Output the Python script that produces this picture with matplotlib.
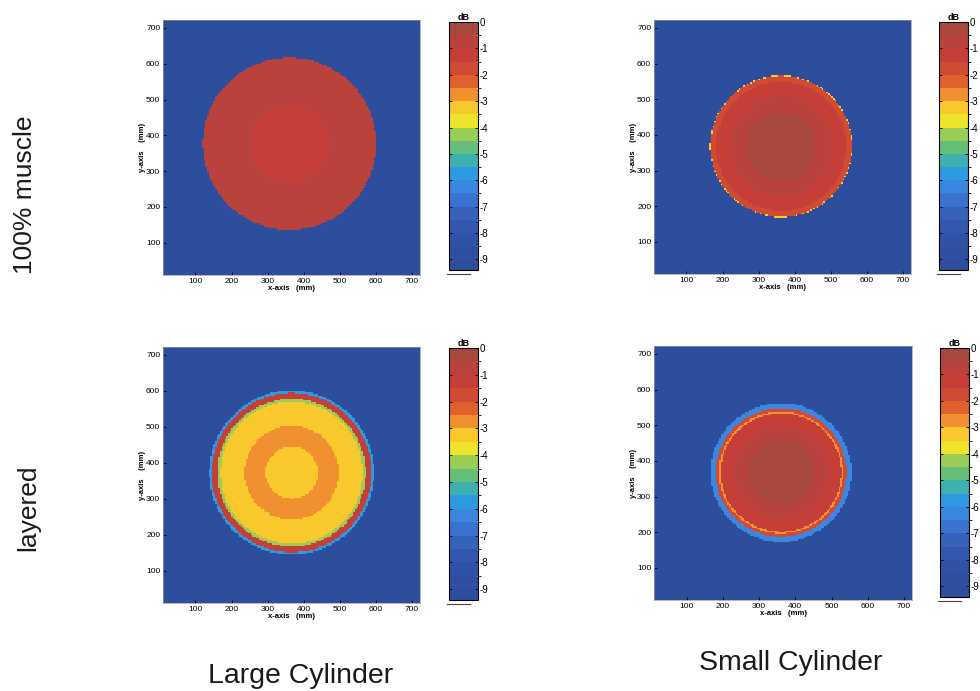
import numpy as np
import matplotlib
matplotlib.use("Agg")
import matplotlib.pyplot as plt
from matplotlib.colors import ListedColormap, BoundaryNorm
from matplotlib.lines import Line2D

plt.rcParams["font.family"] = ["Liberation Sans", "DejaVu Sans"]
plt.rcParams["axes.unicode_minus"] = False

W, H = 980, 691

# dB colour scale, 0.5 dB steps from -9.5 to 0
DB_BOUNDS = np.arange(-9.5, 0.01, 0.5)
DB_COLORS = [
    "#2d4e9d", "#2f50a1", "#3052a6", "#3357ad", "#3662bb", "#3a73cf",
    "#3b86e0", "#2e9be0", "#3eb0b0", "#66bf78", "#9acd55", "#eee42a",
    "#f8c82c", "#f09030", "#e0602e", "#d04a34", "#c63e38", "#b9423c",
    "#a8483e",
]
DB_TICKS = [0, -1, -2, -3, -4, -5, -6, -7, -8, -9]
AXIS_TICKS = [100, 200, 300, 400, 500, 600, 700]
BACKGROUND_DB = -9.3

# ring model of each cylinder: centre (mm), outer radius of each ring (mm), level (dB)
LARGE_MUSCLE_CENTER = (360, 376)
LARGE_MUSCLE_R = [108, 240]
LARGE_MUSCLE_DB = [-1.2, -0.7]

SMALL_MUSCLE_CENTER = (362, 366)
SMALL_MUSCLE_R = [95, 140, 180, 195.5, 197]
SMALL_MUSCLE_DB = [-0.3, -0.8, -1.3, -1.8, -3.3]

LARGE_LAYERED_CENTER = (366, 372)
LARGE_LAYERED_R = [72, 130, 197, 205, 221, 228]
LARGE_LAYERED_DB = [-3.3, -2.7, -3.3, -4.3, -1.3, -6.0]

SMALL_LAYERED_CENTER = (360, 367)
SMALL_LAYERED_R = [90, 130, 166, 171, 180, 194]
SMALL_LAYERED_DB = [-0.3, -0.8, -1.3, -3.0, -1.8, -6.2]

ROW_LABELS = ["100% muscle", "layered"]
COL_LABELS = ["Large Cylinder", "Small Cylinder"]

cmap = ListedColormap(DB_COLORS)
norm = BoundaryNorm(DB_BOUNDS, cmap.N)


def rect(left, top, right, bottom):
    return [left / W, (H - bottom) / H, (right - left) / W, (bottom - top) / H]


def ring_map(center, radii, levels, step=4.5):
    xs = np.arange(10 + step / 2, 722, step)
    X, Y = np.meshgrid(xs, xs)
    r = np.hypot(X - center[0], Y - center[1])
    img = np.full(X.shape, BACKGROUND_DB)
    for rad, lev in sorted(zip(radii, levels), reverse=True):
        img[r < rad] = lev
    return img


def add_panel(fig, ax_box, cax_box, center, radii, levels):
    ax = fig.add_axes(rect(*ax_box))
    img = ring_map(center, radii, levels)
    im = ax.imshow(img, origin="lower", extent=[10, 722, 10, 722], cmap=cmap,
                   norm=norm, interpolation="nearest", aspect="auto")
    ax.set_xticks(AXIS_TICKS)
    ax.set_yticks(AXIS_TICKS)
    ax.tick_params(direction="in", length=2, labelsize=6, pad=2, width=0.6)
    ax.set_xlabel("x-axis   (mm)", fontsize=5.5, fontweight="bold", labelpad=0)
    ax.set_ylabel("y-axis    (mm)", fontsize=5.5, fontweight="bold", labelpad=0)
    for sp in ax.spines.values():
        sp.set_color("#9a9a9a")
        sp.set_linewidth(0.5)

    cax = fig.add_axes(rect(*cax_box))
    cb = fig.colorbar(im, cax=cax, ticks=DB_TICKS)
    cb.outline.set_linewidth(0.8)
    cax.set_ylim(-9.4, 0)
    cax.tick_params(direction="in", length=2.5, labelsize=7, pad=1,
                    left=True, right=True, width=0.6)
    cax.set_title("dB", fontsize=6.5, fontweight="bold", pad=1)

    # short rule under the colour bar
    x0, x1 = cax_box[0] - 2, cax_box[0] + 21
    yb = cax_box[3] + 4
    fig.add_artist(Line2D([x0 / W, x1 / W], [(H - yb) / H] * 2,
                          color="#444444", lw=0.8))
    return ax


fig = plt.figure(figsize=(W / 100, H / 100), dpi=100)

add_panel(fig, (163, 20, 420, 275), (449, 22, 478, 270),
          LARGE_MUSCLE_CENTER, LARGE_MUSCLE_R, LARGE_MUSCLE_DB)
add_panel(fig, (654, 20, 911, 274), (939, 22, 968, 270),
          SMALL_MUSCLE_CENTER, SMALL_MUSCLE_R, SMALL_MUSCLE_DB)
add_panel(fig, (163, 347, 420, 603), (449, 348, 478, 600),
          LARGE_LAYERED_CENTER, LARGE_LAYERED_R, LARGE_LAYERED_DB)
add_panel(fig, (654, 346, 912, 600), (940, 348, 969, 597),
          SMALL_LAYERED_CENTER, SMALL_LAYERED_R, SMALL_LAYERED_DB)

fig.text(25 / W, (H - 195) / H, ROW_LABELS[0], rotation=90, fontsize=19,
         ha="center", va="center", color="#1a1a1a")
fig.text(28 / W, (H - 508) / H, ROW_LABELS[1], rotation=90, fontsize=19,
         ha="center", va="center", color="#1a1a1a")
fig.text(301 / W, (H - 676) / H, COL_LABELS[0], fontsize=20.5,
         ha="center", va="center", color="#1a1a1a")
fig.text(791 / W, (H - 663) / H, COL_LABELS[1], fontsize=20.5,
         ha="center", va="center", color="#1a1a1a")

fig.savefig("out.png", dpi=100)
